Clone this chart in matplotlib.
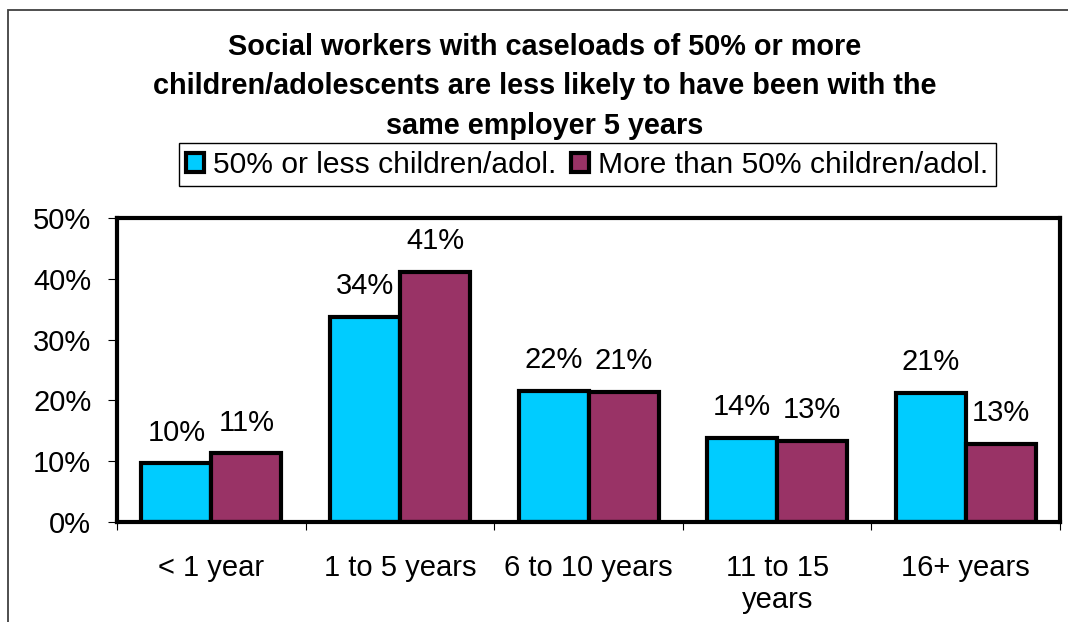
import matplotlib.pyplot as plt
from matplotlib.patches import Patch, Rectangle
from matplotlib.ticker import FuncFormatter, MultipleLocator

plt.rcParams['font.family'] = ['Liberation Sans', 'DejaVu Sans']

# Years with the same employer, split by share of child/adolescent caseload
categories = ['< 1 year', '1 to 5 years', '6 to 10 years', '11 to 15\nyears', '16+ years']
low_share = [9.65, 33.7, 21.6, 13.8, 21.2]
high_share = [11.3, 41.2, 21.4, 13.3, 12.9]
series_names = ['50% or less children/adol.', 'More than 50% children/adol.']
title = ('Social workers with caseloads of 50% or more\n'
         'children/adolescents are less likely to have been with the\n'
         'same employer 5 years')

cyan = '#00CCFF'
maroon = '#993366'
fs = 21

fig = plt.figure(figsize=(10.68, 6.22), dpi=100)
ax = fig.add_axes([0.1096, 0.1608, 0.883, 0.4887])

w = 0.371
x = range(len(categories))
b1 = ax.bar([i - w / 2 for i in x], low_share, w, color=cyan,
            edgecolor='black', linewidth=3, zorder=3)
b2 = ax.bar([i + w / 2 for i in x], high_share, w, color=maroon,
            edgecolor='black', linewidth=3, zorder=3)

for bars, vals in ((b1, low_share), (b2, high_share)):
    for bar, v in zip(bars, vals):
        ax.annotate('{:.0f}%'.format(v),
                    (bar.get_x() + bar.get_width() / 2, v),
                    xytext=(0, 12), textcoords='offset points',
                    ha='center', va='bottom', fontsize=fs)

ax.set_xlim(-0.5, 4.5)
ax.set_ylim(0, 50)
ax.yaxis.set_major_locator(MultipleLocator(10))
ax.yaxis.set_major_formatter(FuncFormatter(lambda v, p: '{:.0f}%'.format(v)))
ax.tick_params(axis='y', labelsize=fs, length=6.5, width=0.8, pad=12)

ax.set_xticks(list(x))
ax.set_xticklabels(categories, fontsize=fs, linespacing=1.2)
ax.set_xticks([i - 0.5 for i in range(len(categories) + 1)], minor=True)
ax.tick_params(axis='x', which='major', length=0, pad=23)
ax.tick_params(axis='x', which='minor', length=6, width=0.8)

for s in ax.spines.values():
    s.set_linewidth(3)
    s.set_zorder(4)

fig.text(0.510, 0.861, title, ha='center', va='center', fontsize=20.8,
         fontweight='bold', linespacing=1.52)

handles = [Patch(facecolor=cyan, edgecolor='black', linewidth=3),
           Patch(facecolor=maroon, edgecolor='black', linewidth=3)]
leg = fig.legend(handles, series_names, loc='center', ncol=2,
                 bbox_to_anchor=(0.55, 0.735), fontsize=21.6,
                 handlelength=0.6, handleheight=0.6, handletextpad=0.3,
                 columnspacing=0.5, borderpad=0.25, fancybox=False,
                 edgecolor='black', framealpha=1)
leg.get_frame().set_linewidth(1)

# Chart area border, running off the right and bottom edges
fig.patches.append(Rectangle((8 / 1068, -0.5), 1.5, 0.5 + 1 - 10 / 622,
                             transform=fig.transFigure, fill=False,
                             edgecolor='#404040', linewidth=1.3))

fig.savefig('out.png', dpi=100)
